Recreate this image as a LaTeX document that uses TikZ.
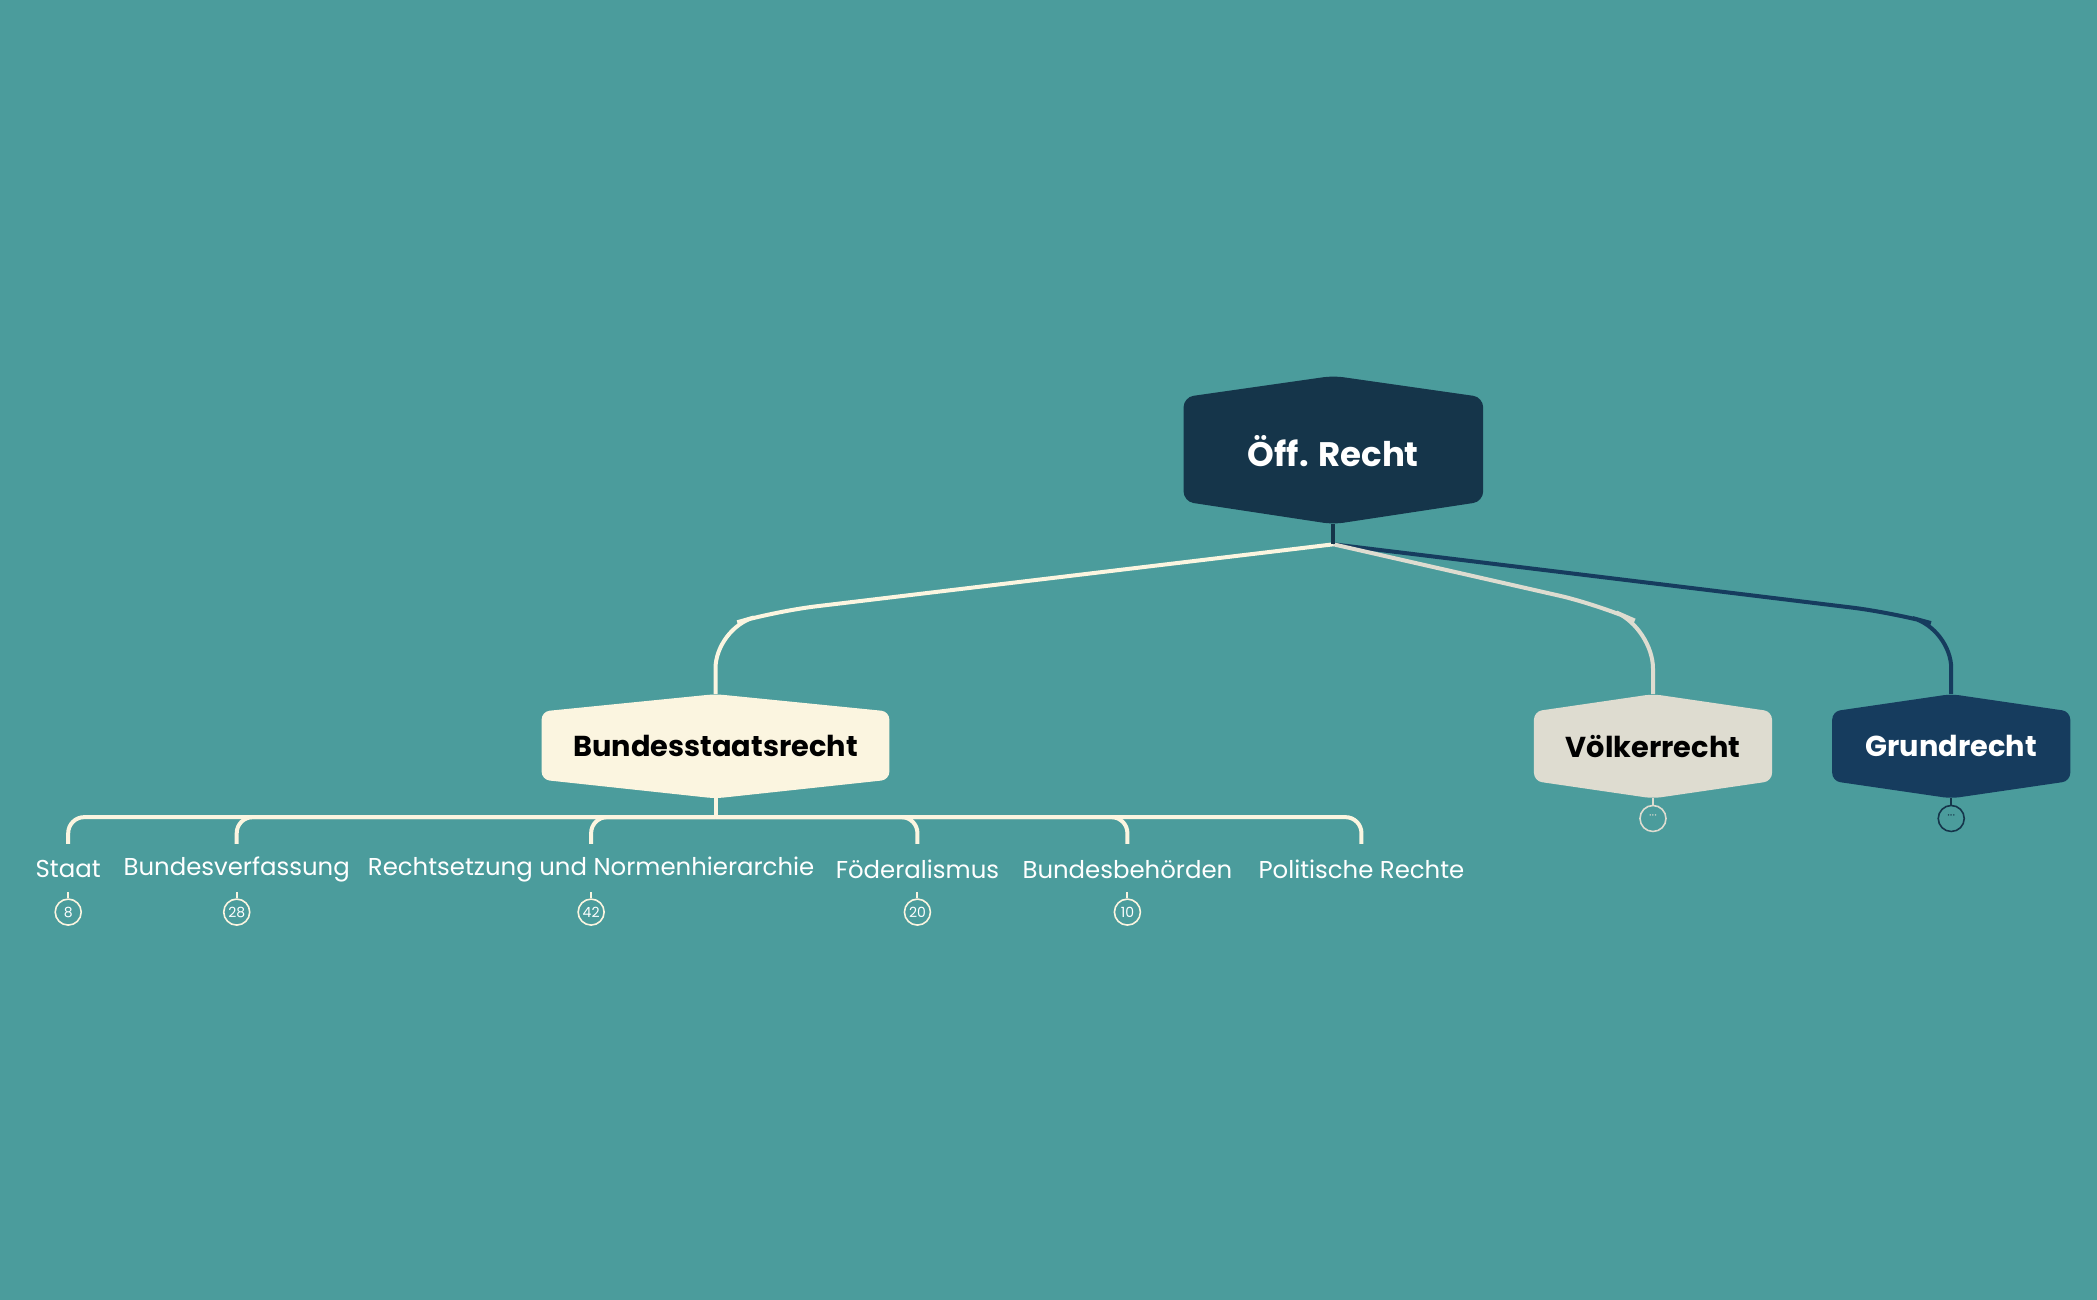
\documentclass[tikz,border=0pt]{standalone}
\usepackage{fontspec}
\setmainfont{Poppins}
\definecolor{bg}{HTML}{4B9C9C}
\definecolor{rootc}{HTML}{15354A}
\definecolor{cream}{HTML}{FBF5E0}
\definecolor{grey}{HTML}{DEDCD0}
\definecolor{navy}{HTML}{163C5E}
\tikzset{
  lbl/.style={text=white,font=\fontsize{12.2}{14}\selectfont,inner sep=0pt},
  badge/.style={circle,draw=cream,line width=0.8pt,minimum size=13pt,inner sep=0pt,text=white,font=\fontsize{7}{8}\selectfont},
  conn/.style={line width=2pt,rounded corners=20pt},
}
\newcommand{\hexbox}[7]{% name, cx, left, right, top, sidetop, sidebot, bot via #7? 
}
\begin{document}
\begin{tikzpicture}[x=0.6687pt,y=-0.6687pt]
\fill[bg] (0,0) rectangle (1568,972);
\useasboundingbox (0,0) rectangle (1568,972);
% shapes
\fill[rootc,rounded corners=5pt] (997,281) -- (1109,297) -- (1109,375) -- (997,392) -- (885,375) -- (885,297) -- cycle;
\node[text=white,font=\bfseries\fontsize{17}{20}\selectfont] (root) at (997,337) {Öff. Recht};
\fill[cream,rounded corners=4pt] (535,519) -- (665,532) -- (665,583) -- (535,597) -- (405,583) -- (405,532) -- cycle;
\node[text=black,font=\bfseries\fontsize{14.4}{17}\selectfont] (bsr) at (535,558) {Bundesstaatsrecht};
\fill[grey,rounded corners=4pt] (1236,519) -- (1325,532) -- (1325,584) -- (1236,597) -- (1147,584) -- (1147,532) -- cycle;
\node[text=black,font=\bfseries\fontsize{14.4}{17}\selectfont] (vr) at (1236,558) {Völkerrecht};
\fill[navy,rounded corners=4pt] (1459,519) -- (1548,532) -- (1548,584) -- (1459,597) -- (1370,584) -- (1370,532) -- cycle;
\node[text=white,font=\bfseries\fontsize{14.4}{17}\selectfont] (gr) at (1459,558) {Grundrecht};
% coordinates
\coordinate (rb) at (997,392);
\coordinate (rj) at (997,407);
\coordinate (bt) at (535,519);
\coordinate (vt) at (1236,519);
\coordinate (gt) at (1459,519);
% root connectors
\draw[conn,navy] (rj) -- (1415,458) -- (1459,470) -- (gt);
\draw[conn,grey] (rj) -- (1195,452) -- (1236,470) -- (vt);
\draw[conn,cream] (rj) -- (580,457) -- (535,470) -- (bt);
\draw[line width=2pt,rootc] (rb) -- (rj);
% children of Bundesstaatsrecht
\coordinate (bb) at (535,597);
\coordinate (bj) at (535,611);
\draw[line width=2pt,cream] (bb) -- (bj);
\foreach \x/\name/\t in {51/c1/Staat,177/c2/Bundesverfassung,442/c3/Rechtsetzung und Normenhierarchie,686/c4/Föderalismus,843/c5/Bundesbehörden,1018/c6/Politische Rechte}{
  \node[lbl] (\name) at (\x,650) {\t};
  \draw[line width=2pt,cream,rounded corners=8pt] (bj) -- (\x,611) -- (\x,631);
}
\foreach \x/\name/\n in {51/b1/8,177/b2/28,442/b3/42,686/b4/20,843/b5/10}{
  \node[badge] (\name) at (\x,682) {\n};
  \coordinate (\name s) at (\x,667);
  \draw[cream,line width=1pt] (\name s) -- (\name);
}
% collapsed markers
\node[badge,draw=grey,text=grey] (vm) at (1236,612) {\raisebox{1pt}{\fontsize{6}{6}\selectfont ···}};
\draw[grey,line width=1.2pt] (1236,597) -- (vm);
\node[badge,draw=rootc,text=rootc] (gm) at (1459,612) {\raisebox{1pt}{\fontsize{6}{6}\selectfont ···}};
\draw[rootc,line width=1.2pt] (1459,597) -- (gm);
\end{tikzpicture}
\end{document}
